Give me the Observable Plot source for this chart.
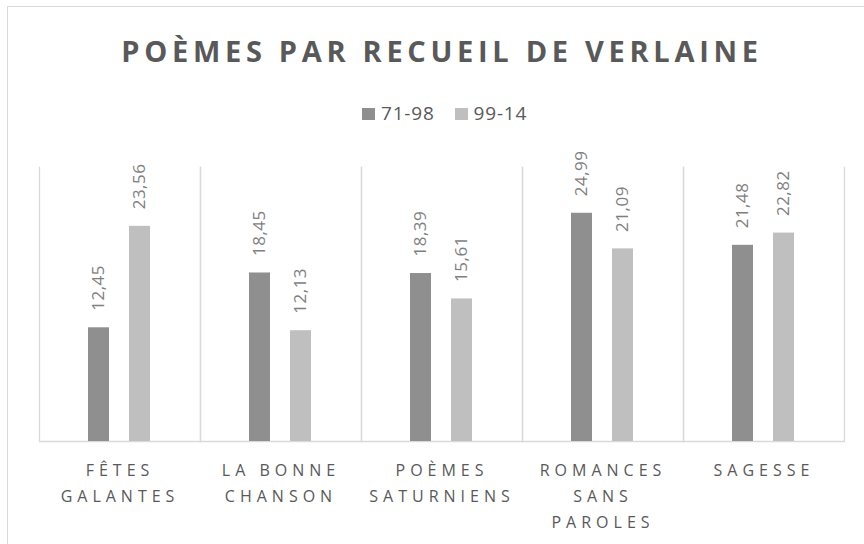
<!DOCTYPE html>
<html>
<head>
<meta charset="utf-8">
<script src="https://cdn.jsdelivr.net/npm/d3@7"></script>
<script src="https://cdn.jsdelivr.net/npm/@observablehq/plot@0.6"></script>
<style>
  html, body { margin: 0; padding: 0; background: #fff; }
  body { width: 864px; height: 544px; overflow: hidden; position: relative; font-family: "Open Sans", sans-serif; }
  #border { position: absolute; left: 7px; top: 6px; width: 900px; height: 600px; border: 1px solid #d9d9d9; box-sizing: border-box; }
  #title { position: absolute; left: 0; width: 884px; top: 36px; text-align: center; font-family: "Open Sans", sans-serif; font-weight: 700; font-size: 29px; line-height: 29px; letter-spacing: 4.7px; color: #595959; white-space: nowrap; }
  #legend { position: absolute; left: 362px; top: 104px; display: flex; align-items: center; font-family: "Open Sans", sans-serif; font-size: 19px; line-height: 19px; color: #595959; letter-spacing: 0.8px; }
  #legend .sw { width: 13px; height: 12px; margin-right: 6px; }
  #legend .item { display: flex; align-items: center; margin-right: 20px; }
  #chart { position: absolute; left: 0; top: 130px; }
</style>
</head>
<body>
<div id="border"></div>
<div id="title"></div>
<div id="legend"></div>
<div id="chart"></div>
<script>
const titleText = "POÈMES PAR RECUEIL DE VERLAINE";
const categories = ["FÊTES GALANTES", "LA BONNE CHANSON", "POÈMES SATURNIENS", "ROMANCES SANS PAROLES", "SAGESSE"];
const categoryLines = ["FÊTES\nGALANTES", "LA BONNE\nCHANSON", "POÈMES\nSATURNIENS", "ROMANCES\nSANS\nPAROLES", "SAGESSE"];
const series = ["71-98", "99-14"];
const values7198 = [12.45, 18.45, 18.39, 24.99, 21.48];
const values9914 = [23.56, 12.13, 15.61, 21.09, 22.82];
const colors = ["#8f8f8f", "#bfbfbf"];

const data = [];
categories.forEach((c, i) => {
  data.push({category: c, series: series[0], value: values7198[i]});
  data.push({category: c, series: series[1], value: values9914[i]});
});
const catData = categories.map((c, i) => ({category: c, label: categoryLines[i]}));

document.getElementById("title").textContent = titleText;
const legend = document.getElementById("legend");
series.forEach((s, i) => {
  const item = document.createElement("div");
  item.className = "item";
  const sw = document.createElement("div");
  sw.className = "sw";
  sw.style.background = colors[i];
  const t = document.createElement("span");
  t.textContent = s;
  item.appendChild(sw);
  item.appendChild(t);
  legend.appendChild(item);
});

const fmt = v => v.toFixed(2).replace(".", ",");

const chart = Plot.plot({
  width: 864,
  height: 414,
  marginTop: 37,
  marginBottom: 103,
  marginLeft: 37,
  marginRight: 19,
  style: {fontFamily: "Open Sans, sans-serif", background: "transparent", overflow: "visible"},
  fx: {domain: categories, padding: 0, axis: null},
  x: {domain: series, paddingInner: 0.476, paddingOuter: 1.162, axis: null},
  y: {domain: [0, 30], axis: null},
  color: {domain: series, range: colors},
  marks: [
    Plot.frame({anchor: "left", stroke: "#d9d9d9", strokeWidth: 1.3}),
    Plot.frame({anchor: "right", stroke: "#d9d9d9", strokeWidth: 1.3}),
    Plot.ruleY([0], {stroke: "#d9d9d9", strokeWidth: 1.5}),
    Plot.barY(data, {fx: "category", x: "series", y: "value", fill: "series"}),
    Plot.text(data, {
      fx: "category", x: "series", y: "value", text: d => fmt(d.value),
      rotate: -90, textAnchor: "start", lineAnchor: "middle", dy: -17,
      fontSize: 17, fill: "#7f7f7f"
    }),
    Plot.text(catData, {
      fx: "category", text: "label", frameAnchor: "bottom", lineAnchor: "top",
      dy: 16, fontSize: 16, lineHeight: 1.625, fill: "#595959"
    })
  ]
});
// letter spacing: value labels are 17px, category labels 16px
d3.select(chart).selectAll('g[font-size="17"] text').style("letter-spacing", "0.5px");
d3.select(chart).selectAll('g[font-size="16"] text').style("letter-spacing", "5px");
document.getElementById("chart").appendChild(chart);
</script>
</body>
</html>
